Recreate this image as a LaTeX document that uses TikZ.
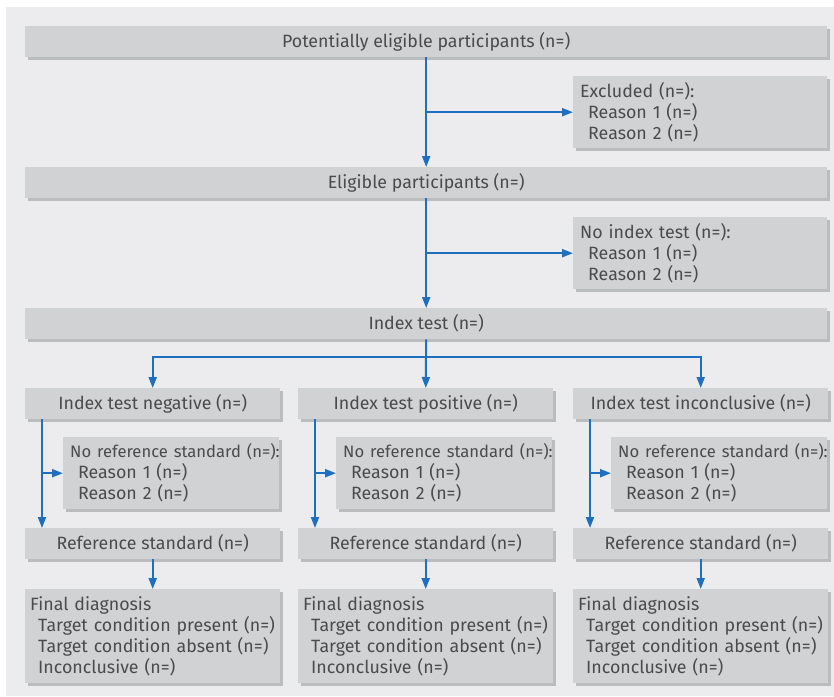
\documentclass[tikz,border=0pt]{standalone}
\usepackage{fontspec}
\setmainfont{Fira Sans}
\usetikzlibrary{arrows.meta,shadows,positioning}

\definecolor{pagegrey}{HTML}{ECECEE}
\definecolor{boxgrey}{HTML}{D1D2D4}
\definecolor{shadegrey}{HTML}{BBBCBE}
\definecolor{flowblue}{HTML}{1F6FC0}
\definecolor{textgrey}{HTML}{4B4B4D}

\tikzset{
  box/.style={fill=boxgrey, inner sep=0pt, text=textgrey,
    general shadow={fill=shadegrey, shadow xshift=3pt, shadow yshift=-3pt},
    font=\fontsize{17.8}{21}\selectfont, anchor=north west},
  widebox/.style={box, minimum width=802pt, minimum height=31pt},
  colbox/.style={box, minimum width=255pt, minimum height=31pt},
  listbox/.style={box, align=left, inner xsep=7pt, text width=240pt,
    minimum width=254pt, minimum height=72pt},
  subbox/.style={listbox, text width=202pt, minimum width=216pt},
  finalbox/.style={box, align=left, inner xsep=5pt, text width=245pt,
    minimum width=255pt, minimum height=94pt},
  arr/.style={draw=flowblue, line width=2pt, -{Triangle[length=11pt,width=8pt]}},
  link/.style={draw=flowblue, line width=2pt}
}
\newcommand{\ind}{\hspace*{8pt}}

\begin{document}
\begin{tikzpicture}[x=1pt, y=-1pt]
	\useasboundingbox (0,0) rectangle (834,696);
	\fill[pagegrey] (6,7) rectangle (834,696);
	
	% top part
	\node[widebox] (pot) at (25,26) {Potentially eligible participants (n=)};
	\node[listbox] (excl) at (573,76) {Excluded (n=):\\ \ind Reason 1 (n=)\\ \ind Reason 2 (n=)};
	\node[widebox] (elig) at (25,167) {Eligible participants (n=)};
	\node[listbox] (noidx) at (573,217) {No index test (n=):\\ \ind Reason 1 (n=)\\ \ind Reason 2 (n=)};
	\node[widebox] (idx) at (25,308) {Index test (n=)};
	
	\draw[arr] (pot) -- (elig);
	\draw[arr] (pot.south |- excl.west) -- (excl.west);
	\draw[arr] (elig) -- (idx);
	\draw[arr] (elig.south |- noidx.west) -- (noidx.west);
	
	\coordinate (split) at (426,357);
	
	% three columns
	\foreach \c/\x/\res in {neg/25/negative, pos/298/positive, inc/573/inconclusive} {
		\node[colbox] (\c) at (\x,388) {Index test \res\ (n=)};
		\node[subbox] (\c sub) at (\x+38,437) {\mbox{\fontsize{16.6}{21}\selectfont No reference standard (n=):}\\
			\ind Reason 1 (n=)\\ \ind Reason 2 (n=)};
		\node[colbox] (\c ref) at (\x,528) {Reference standard (n=)};
		\node[finalbox] (\c fin) at (\x,589) {Final diagnosis\\ \ind Target condition present (n=)\\
			\ind Target condition absent (n=)\\ \ind Inconclusive (n=)};
		\coordinate (\c line) at ([xshift=17pt]\c.south west);
		\draw[arr] (\c line) -- (\c line |- \c ref.north);
		\draw[arr] (\c line |- \c sub.west) -- (\c sub.west);
		\draw[arr] (\c ref) -- (\c fin);
	}
	
	\draw[arr] (idx) -- (pos);
	\draw[arr] (split) -| (neg);
	\draw[arr] (split) -| (inc);
\end{tikzpicture}
\end{document}
